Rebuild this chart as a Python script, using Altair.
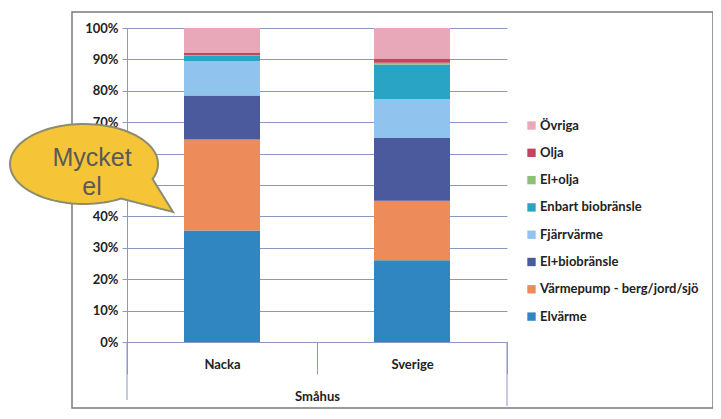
import math
import altair as alt
import pandas as pd

categories = ["Nacka", "Sverige"]
# bottom to top stacking order
types = ["Elvärme", "Värmepump - berg/jord/sjö", "El+biobränsle", "Fjärrvärme",
         "Enbart biobränsle", "El+olja", "Olja", "Övriga"]
colors = ["#2F86C0", "#EE8B5A", "#4A5A9C", "#90C4EE", "#2AA4C4", "#8CC07A", "#C14560", "#E8A8BA"]
nacka = [35.5, 29.0, 14.0, 11.0, 1.6, 0.2, 0.7, 8.0]
sverige = [26.0, 19.0, 20.0, 12.4, 11.0, 0.5, 1.4, 9.7]
y_ticks = [0, 0.1, 0.2, 0.3, 0.4, 0.5, 0.6, 0.7, 0.8, 0.9, 1.0]

rows = []
for cat, vals in zip(categories, [nacka, sverige]):
    for i, (t, v) in enumerate(zip(types, vals)):
        rows.append({"cat": cat, "typ": t, "val": v / 100.0, "ord": i})
df = pd.DataFrame(rows)

grid_col = "#8C97C2"
FONT = "Lato"

bars = alt.Chart(df).mark_bar(size=76).encode(
    x=alt.X("cat:N", sort=categories,
            scale=alt.Scale(paddingInner=0, paddingOuter=0),
            axis=alt.Axis(title="Småhus", labelAngle=0, tickBand="extent",
                          tickSize=32, tickColor=grid_col, domainColor=grid_col,
                          labelFont=FONT, labelFontWeight="bold", labelFontSize=13,
                          labelColor="#222", labelPadding=-16,
                          titleFont=FONT, titleFontWeight="bold", titleFontSize=13,
                          titleColor="#222", titleY=54, titleBaseline="middle")),
    y=alt.Y("val:Q", stack="zero",
            scale=alt.Scale(domain=[0, 1], nice=False),
            axis=alt.Axis(title=None, values=y_ticks, format=".0%", grid=True,
                          labelExpr="(datum.value > 0.45 && datum.value < 0.65) ? '' : datum.label",
                          gridColor=grid_col, gridWidth=1.2, domain=True,
                          domainColor=grid_col, tickColor=grid_col, tickSize=5,
                          labelFont=FONT, labelFontWeight="bold", labelFontSize=13,
                          labelColor="#222", labelPadding=4)),
    color=alt.Color("typ:N",
                    scale=alt.Scale(domain=list(reversed(types)), range=list(reversed(colors))),
                    legend=alt.Legend(title=None, orient="none", legendX=398, legendY=91,
                                      symbolType="square", symbolSize=70,
                                      symbolStrokeWidth=0, labelFont=FONT,
                                      labelFontWeight="bold", labelFontSize=13,
                                      labelColor="#222", rowPadding=13.3, labelOffset=2)),
    order=alt.Order("ord:Q", sort="ascending"),
)

one = pd.DataFrame({"k": [0]})
frame = alt.Chart(one).mark_rect(fill=None, stroke="#7a7a7a", strokeWidth=1.5).encode(
    x=alt.value(-55), x2=alt.value(586), y=alt.value(-16), y2=alt.value(380)
)
# extended outer lines of the two-level category axis
edge_left = alt.Chart(one).mark_rule(color=grid_col, strokeWidth=1).encode(
    x=alt.value(0), y=alt.value(314), y2=alt.value(372)
)
edge_right = alt.Chart(one).mark_rule(color=grid_col, strokeWidth=1).encode(
    x=alt.value(380), y=alt.value(314), y2=alt.value(378)
)

# speech bubble shape (unit = 100px)
rx, ry = 0.74, 0.40
pts = []
a0, a1 = 22, 60
n = 90
for k in range(n + 1):
    th = math.radians(a0 - (360 - (a1 - a0)) * k / n)
    pts.append((rx * math.cos(th), ry * math.sin(th)))
pts.append((0.89, 0.48))
path = "M" + " L".join(f"{x:.4f},{y:.4f}" for x, y in pts) + " Z"

bubble = alt.Chart(one).mark_point(shape=path, filled=True, fill="#F6C437",
                                   stroke="#8C8C6E", strokeWidth=2, opacity=1,
                                   size=40000).encode(
    x=alt.value(-43), y=alt.value(136)
)
bubble_text = alt.Chart(one).mark_text(font="Liberation Sans", fontSize=25,
                                       color="#5a5a5a", lineBreak="\n",
                                       lineHeight=29, align="center",
                                       baseline="middle").encode(
    x=alt.value(-35), y=alt.value(130), text=alt.value("Mycket\nel")
)

chart = alt.layer(frame, edge_left, edge_right, bars, bubble, bubble_text).properties(
    width=380, height=314,
    autosize=alt.AutoSizeParams(type="none"),
    padding={"left": 119, "top": 20, "right": 206, "bottom": 69},
    background="white",
).configure_view(stroke=None)

chart.save("out.html", embed_options={"renderer": "svg", "actions": False})
